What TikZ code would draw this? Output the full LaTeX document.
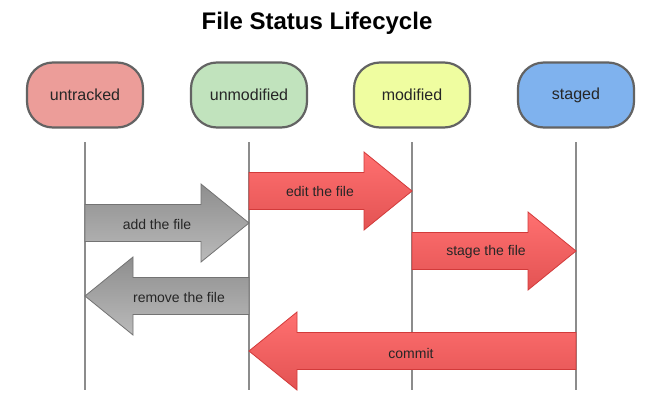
\documentclass[tikz,border=0pt]{standalone}
\usepackage{fontspec}
\setmainfont{Liberation Sans}
\usepackage{xcolor}
\usetikzlibrary{calc}
\newcommand{\statesize}{\fontsize{16pt}{18pt}\selectfont}
\newcommand{\lblsize}{\fontsize{14pt}{16pt}\selectfont}

% fat arrow: style, tail node, head node, y, direction (1 right, -1 left)
\newcommand{\fatarrow}[5]{%
  \draw[#1] ($(#2 |- 0,#4)+(0,-18.5)$)
    -- ($(#3 |- 0,#4)+({-48*(#5)},-18.5)$) -- ++(0,-20.5)
    -- (#3 |- 0,#4) -- ++({-48*(#5)},39) -- ++(0,-20.5)
    -- ($(#2 |- 0,#4)+(0,18.5)$) -- cycle;}

\definecolor{untrackedfill}{HTML}{EC9D99}
\definecolor{unmodfill}{HTML}{C1E3BD}
\definecolor{modfill}{HTML}{EFFDA0}
\definecolor{stagedfill}{HTML}{7FB2EE}
\definecolor{boxline}{HTML}{636363}
\definecolor{redtop}{HTML}{FF7070}
\definecolor{redbot}{HTML}{E35353}
\definecolor{redline}{HTML}{D23A3A}
\definecolor{graytop}{HTML}{8E8E8E}
\definecolor{graybot}{HTML}{BABABA}

\tikzset{
  state/.style={draw=boxline, line width=2.2pt, rounded corners=26pt,
    minimum width=116pt, minimum height=65pt, text=black!85, font=\statesize},
  life/.style={draw=black!45, line width=2.4pt},
  redarrow/.style={draw=redline, line width=0.8pt, top color=redtop, bottom color=redbot},
  grayarrow/.style={draw=black!55, line width=0.8pt, top color=graytop, bottom color=graybot},
  lbl/.style={text=black!85, font=\lblsize, inner sep=0pt}
}

\begin{document}
\begin{tikzpicture}[x=1pt, y=-1pt]
  \useasboundingbox[fill=white] (0,0) rectangle (670,418);

  % Title
  \node[font=\fontsize{24pt}{27pt}\selectfont\bfseries] (title) at (317,23) {File Status Lifecycle};

  % States
  \node[state, fill=untrackedfill] (untracked) at (85,95) {untracked};
  \node[state, fill=unmodfill] (unmodified) at (249,95) {unmodified};
  \node[state, fill=modfill] (modified) at (412,95) {modified};
  \node[state, fill=stagedfill] (staged) at (576,95) {staged};

  % Lifelines
  \foreach \s in {untracked, unmodified, modified, staged}
    \draw[life] (\s |- 0,142) -- (\s |- 0,390);

  % Arrows
  \fatarrow{grayarrow}{untracked}{unmodified}{223}{1}
  \fatarrow{redarrow}{unmodified}{modified}{191}{1}
  \fatarrow{grayarrow}{unmodified}{untracked}{296}{-1}
  \fatarrow{redarrow}{modified}{staged}{251}{1}
  \fatarrow{redarrow}{staged}{unmodified}{351}{-1}

  % Labels
  \node[lbl] (add) at (157,224) {add the file};
  \node[lbl] (edit) at (320,191) {edit the file};
  \node[lbl] (remove) at (179,297) {remove the file};
  \node[lbl] (stage) at (486,252) {stage the file};
  \node[lbl] (commit) at (411,353) {commit};
\end{tikzpicture}
\end{document}
